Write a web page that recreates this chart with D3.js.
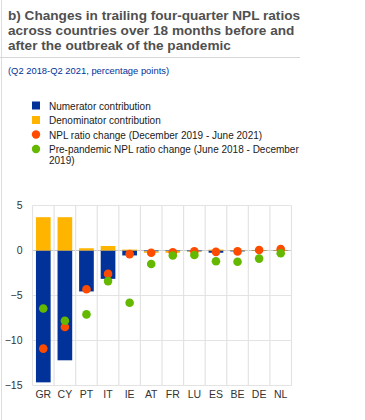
<!DOCTYPE html>
<html>
<head>
<meta charset="utf-8">
<script src="https://cdn.jsdelivr.net/npm/d3@7"></script>
<style>
  body { margin: 0; background: #fff; }
  text { font-family: "Liberation Sans", Arial, sans-serif; }
</style>
</head>
<body>
<div id="chart"></div>
<script>
// Data
const countries = ["GR", "CY", "PT", "IT", "IE", "AT", "FR", "LU", "ES", "BE", "DE", "NL"];
const numerator = [-14.65, -12.2, -4.55, -3.15, -0.55, -0.1, -0.05, -0.1, -0.25, -0.1, -0.05, -0.05];
const denominator = [3.7, 3.7, 0.25, 0.5, 0.1, -0.15, -0.2, -0.05, 0.1, 0.05, 0.05, 0.05];
const nplChange = [-10.9, -8.5, -4.3, -2.6, -0.4, -0.25, -0.2, -0.1, -0.15, -0.1, 0.05, 0.15];
const prePandemic = [-6.45, -7.8, -7.1, -3.4, -5.8, -1.5, -0.55, -0.5, -1.2, -1.25, -0.9, -0.3];
const yTicks = [5, 0, -5, -10, -15];

const titleLines = [
  "b) Changes in trailing four-quarter NPL ratios",
  "across countries over 18 months before and",
  "after the outbreak of the pandemic"
];
const subtitle = "(Q2 2018-Q2 2021, percentage points)";
const legendItems = [
  { label: ["Numerator contribution"], color: "#003299", shape: "rect" },
  { label: ["Denominator contribution"], color: "#ffb400", shape: "rect" },
  { label: ["NPL ratio change (December 2019 - June 2021)"], color: "#ff4b00", shape: "circle" },
  { label: ["Pre-pandemic NPL ratio change (June 2018 - December", "2019)"], color: "#65b800", shape: "circle" }
];

const svg = d3.select("#chart").append("svg")
  .attr("width", 365)
  .attr("height", 420);

// left border and separator
svg.append("line").attr("x1", 1.5).attr("x2", 1.5).attr("y1", 0).attr("y2", 420)
  .attr("stroke", "#ddd").attr("stroke-width", 1);
svg.append("line").attr("x1", 0).attr("x2", 300).attr("y1", 57.5).attr("y2", 57.5)
  .attr("stroke", "#d6d6d6").attr("stroke-width", 1);

// Title
svg.append("text")
  .attr("x", 8).attr("y", 19.5)
  .attr("font-size", "13.6px").attr("font-weight", "bold").attr("fill", "#505050")
  .selectAll("tspan").data(titleLines).enter().append("tspan")
  .attr("x", 8).attr("dy", (d, i) => i === 0 ? 0 : 15.3)
  .text(d => d);

svg.append("text")
  .attr("x", 8).attr("y", 74)
  .attr("font-size", "9.4px").attr("fill", "#003299")
  .text(subtitle);

// Legend
let ly = 101.5;
legendItems.forEach(item => {
  if (item.shape === "rect") {
    svg.append("rect").attr("x", 32).attr("y", ly).attr("width", 8).attr("height", 8)
      .attr("fill", item.color);
  } else {
    svg.append("circle").attr("cx", 36).attr("cy", ly + 4).attr("r", 4.2)
      .attr("fill", item.color);
  }
  item.label.forEach((t, i) => {
    svg.append("text").attr("x", 49).attr("y", ly + 8 + i * 11)
      .attr("font-size", "10px").attr("fill", "#1a1a1a").text(t);
  });
  ly += 14.5;
});

// Plot
const margin = { left: 32.5, right: 291.5, top: 205.5, bottom: 385.5 };
const x = d3.scaleBand()
  .domain(countries)
  .range([margin.left, margin.right])
  .paddingInner(0.32)
  .paddingOuter(0.16);
const y = d3.scaleLinear()
  .domain([-15, 5])
  .range([margin.bottom, margin.top]);

const grid = svg.append("g");
// horizontal gridlines
grid.selectAll("line.h").data(yTicks).enter().append("line")
  .attr("x1", margin.left).attr("x2", margin.right)
  .attr("y1", d => y(d)).attr("y2", d => y(d))
  .attr("stroke", d => d === 0 ? "#c8c8c8" : "#e3e3e3")
  .attr("stroke-width", 1.2);
// vertical gridlines at band edges
const step = x.step();
const edges = countries.map(c => x(c) - x.bandwidth() * 0 - (step - x.bandwidth()) / 2)
  .concat([margin.right]);
grid.selectAll("line.v").data(edges).enter().append("line")
  .attr("x1", d => d).attr("x2", d => d)
  .attr("y1", margin.top).attr("y2", margin.bottom)
  .attr("stroke", "#e3e3e3").attr("stroke-width", 1.2);

// Y axis labels
const yAxis = svg.append("g")
  .attr("transform", `translate(${margin.left - 10},0)`)
  .call(d3.axisLeft(y).tickValues(yTicks).tickSize(0).tickPadding(0));
yAxis.select(".domain").remove();
yAxis.selectAll("text").attr("font-size", "10.5px").attr("fill", "#333")
  .attr("font-family", "Liberation Sans, Arial, sans-serif");

// X axis labels
const xAxis = svg.append("g")
  .attr("transform", `translate(0,${margin.bottom + 5})`)
  .call(d3.axisBottom(x).tickSize(0).tickPadding(0));
xAxis.select(".domain").remove();
xAxis.selectAll("text").attr("font-size", "10.5px").attr("fill", "#333")
  .attr("font-family", "Liberation Sans, Arial, sans-serif");

// Stacked bars (diverging)
const rows = countries.map((c, i) => ({ country: c, numerator: numerator[i], denominator: denominator[i] }));
const stack = d3.stack().keys(["numerator", "denominator"]).offset(d3.stackOffsetDiverging);
const series = stack(rows);
const colors = { numerator: "#003299", denominator: "#ffb400" };

svg.append("g").selectAll("g").data(series).enter().append("g")
  .attr("fill", d => colors[d.key])
  .selectAll("rect").data(d => d).enter().append("rect")
  .attr("x", d => x(d.data.country))
  .attr("width", x.bandwidth())
  .attr("y", d => y(Math.max(d[0], d[1])))
  .attr("height", d => Math.abs(y(d[0]) - y(d[1])));

// Dots
const dots = svg.append("g");
dots.selectAll("circle.red").data(nplChange).enter().append("circle")
  .attr("cx", (d, i) => x(countries[i]) + x.bandwidth() / 2)
  .attr("cy", d => y(d))
  .attr("r", 4.3)
  .attr("fill", "#ff4b00");
dots.selectAll("circle.green").data(prePandemic).enter().append("circle")
  .attr("cx", (d, i) => x(countries[i]) + x.bandwidth() / 2)
  .attr("cy", d => y(d))
  .attr("r", 4.3)
  .attr("fill", "#65b800");
</script>
</body>
</html>
